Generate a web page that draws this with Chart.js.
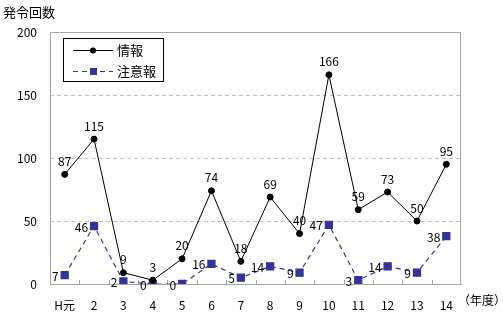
<!DOCTYPE html>
<html>
<head>
<meta charset="utf-8">
<script src="https://cdn.jsdelivr.net/npm/chart.js@4/dist/chart.umd.min.js"></script>
<style>
  body { margin: 0; background: #fff; }
  #wrap { width: 503px; height: 312px; position: relative; }
</style>
</head>
<body>
<div id="wrap"><canvas id="grafico"></canvas></div>
<script>
const nendo = ['H元', '2', '3', '4', '5', '6', '7', '8', '9', '10', '11', '12', '13', '14']
const joho = [87, 115, 9, 3, 20, 74, 18, 69, 40, 166, 59, 73, 50, 95]
const chuiho = [7, 46, 2, 0, 0, 16, 5, 14, 9, 47, 3, 14, 9, 38]
const yTicks = [0, 50, 100, 150, 200]

const fonte = "'Noto Sans CJK JP', 'Noto Sans', sans-serif"
const corAzul = '#333399'

// textos, bordas e legenda desenhados a mao
const extras = {
    id: 'extras',
    beforeDatasetsDraw(chart) {
        const { ctx, chartArea: a } = chart
        ctx.save()
        // borda cinza da area do grafico
        ctx.strokeStyle = '#a6a6a6'
        ctx.lineWidth = 1
        ctx.beginPath()
        ctx.moveTo(a.left + 0.5, a.bottom)
        ctx.lineTo(a.left + 0.5, a.top + 0.5)
        ctx.lineTo(a.right - 0.5, a.top + 0.5)
        ctx.lineTo(a.right - 0.5, a.bottom)
        ctx.stroke()
        // marcas do eixo x para dentro
        const w = (a.right - a.left) / nendo.length
        ctx.beginPath()
        for (let i = 1; i < nendo.length; i++) {
            const x = Math.round(a.left + i * w) + 0.5
            ctx.moveTo(x, a.bottom - 4)
            ctx.lineTo(x, a.bottom)
        }
        ctx.stroke()
        ctx.restore()
    },
    afterDatasetsDraw(chart) {
        const { ctx } = chart
        ctx.save()
        ctx.font = '12px ' + fonte
        ctx.fillStyle = '#000'
        // rotulos dos pontos
        const m0 = chart.getDatasetMeta(0)
        m0.data.forEach((p, i) => {
            ctx.textAlign = 'center'
            ctx.textBaseline = 'bottom'
            ctx.fillText(joho[i], p.x, p.y - 7)
        })
        const m1 = chart.getDatasetMeta(1)
        m1.data.forEach((p, i) => {
            ctx.textAlign = 'right'
            ctx.textBaseline = 'middle'
            ctx.fillText(chuiho[i], p.x - 6, p.y + 1)
        })
        // titulos
        ctx.font = '13px ' + fonte
        ctx.textAlign = 'left'
        ctx.textBaseline = 'middle'
        ctx.fillText('発令回数', 3, 12)
        ctx.font = '12px ' + fonte
        ctx.fillText('（年度）', 458, 300)
        // legenda
        ctx.fillStyle = '#fff'
        ctx.fillRect(63, 38, 100, 43)
        ctx.strokeStyle = '#000'
        ctx.lineWidth = 1
        ctx.strokeRect(63.5, 38.5, 100, 43)
        ctx.beginPath()
        ctx.moveTo(73, 50.5)
        ctx.lineTo(113, 50.5)
        ctx.stroke()
        ctx.fillStyle = '#000'
        ctx.beginPath()
        ctx.arc(93, 50.5, 3, 0, Math.PI * 2)
        ctx.fill()
        ctx.strokeStyle = corAzul
        ctx.setLineDash([5, 4])
        ctx.beginPath()
        ctx.moveTo(73, 71.5)
        ctx.lineTo(113, 71.5)
        ctx.stroke()
        ctx.setLineDash([])
        ctx.fillStyle = corAzul
        ctx.fillRect(90, 68, 7, 7)
        ctx.fillStyle = '#000'
        ctx.font = '13px ' + fonte
        ctx.fillText('情報', 117, 50)
        ctx.fillText('注意報', 117, 71)
        ctx.restore()
    }
}

const ctx = document.getElementById('grafico').getContext('2d')
new Chart(ctx, {
    type: 'line',
    data: {
        labels: nendo,
        datasets: [{
            label: '情報',
            data: joho,
            borderColor: '#000',
            backgroundColor: '#000',
            borderWidth: 1,
            pointStyle: 'circle',
            pointRadius: 3,
            pointHoverRadius: 3,
            tension: 0
        }, {
            label: '注意報',
            data: chuiho,
            borderColor: corAzul,
            backgroundColor: corAzul,
            borderWidth: 1.2,
            borderDash: [5, 4],
            pointStyle: 'rect',
            pointRadius: 5,
            pointHoverRadius: 5,
            tension: 0
        }]
    },
    options: {
        responsive: true,
        maintainAspectRatio: false,
        animation: false,
        events: [],
        layout: { padding: { left: 0, top: 32, right: 42, bottom: 0 } },
        scales: {
            x: {
                offset: true,
                grid: { display: false },
                border: { color: '#a6a6a6' },
                ticks: { color: '#000', font: { family: fonte, size: 12 }, padding: 6, maxRotation: 0, autoSkip: false },
                afterFit: s => { s.height = 28 }
            },
            y: {
                min: 0,
                max: 200,
                afterBuildTicks: s => { s.ticks = yTicks.map(v => ({ value: v })) },
                grid: { color: '#c0c0c0', drawTicks: false },
                border: { display: false, dash: [4, 3] },
                ticks: { color: '#000', font: { family: fonte, size: 12 }, padding: 13 },
                afterFit: s => { s.width = 50 }
            }
        },
        plugins: {
            legend: { display: false },
            tooltip: { enabled: false }
        }
    },
    plugins: [extras]
})
</script>
</body>
</html>
